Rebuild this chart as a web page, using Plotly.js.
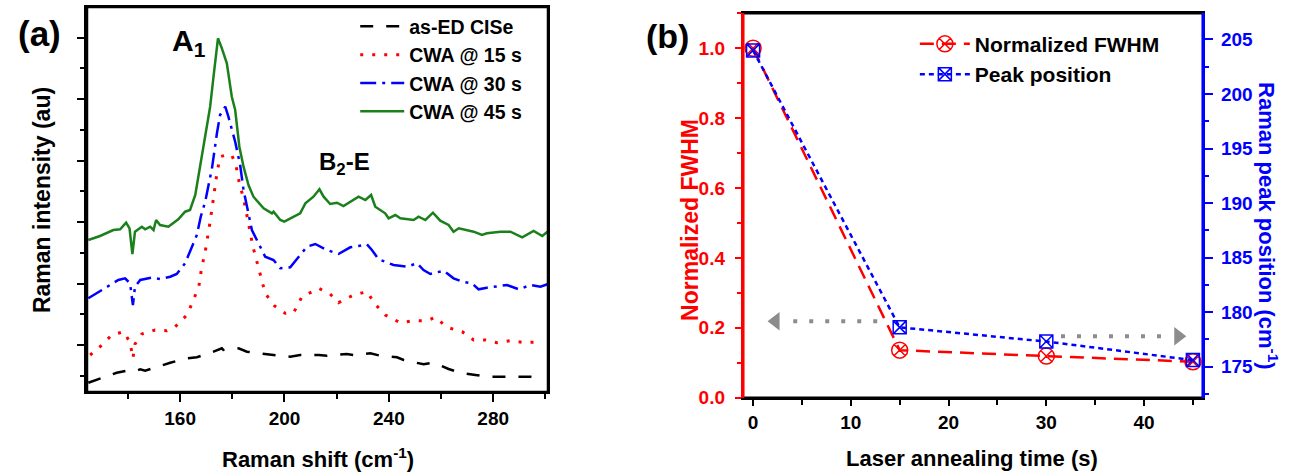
<!DOCTYPE html>
<html>
<head>
<meta charset="utf-8">
<script src="https://cdn.plot.ly/plotly-3.0.1.min.js"></script>
<style>html,body{margin:0;padding:0;background:#fff;}#chart{width:1294px;height:474px;}</style>
</head>
<body>
<div id="chart"></div>
<script>
// ---------- Panel (a): Raman spectra (arbitrary intensity units) ----------
const asEdX = [124.8,129.3,135.7,139.6,142.1,144.7,146.6,152.3,156.2,162.6,166.4,172.8,176,176.6,182.4,185.6,192,195.8,202.2,206,213.1,216.3,223.9,226.5,232.9,236.7,243.1,245.7,253.3,257.2,262.9,267.4,273.2,277.6,283.4,287.9,294.3,298.1];
const asEdY = [9.3,13.7,19.3,21.3,20.3,22.7,21.3,26,29.3,33.7,34.7,40.3,43.7,42,43.7,40.3,38,37,35.3,37,37,36.3,38,37,38.7,36.3,34.7,32,27.7,29.3,23,19.3,17,15.3,15.3,15.3,15.3,13];

const cwa15X = [125.5,129.3,133.8,138.3,140.8,141.9,142.7,145.3,150.4,154.9,158.1,162.6,165.1,167.2,168.2,169.6,171.5,172.4,173.2,174.1,175.3,177.6,179.8,181.5,182.7,184.3,186.2,187.9,191.1,192.6,196.2,200.3,203.5,206.7,209.9,213.1,217.5,220.7,226.5,231.6,234.8,238.6,244.4,249.5,254.6,257.8,262.3,268.1,272.5,277,281.5,286.6,292.3,298.1];
const cwa15Y = [37,45.3,57,60.3,49.7,33.7,48,58,62,61.3,65.3,77,92,106,123.7,140.3,170.3,187,203.7,218.7,235.3,237,237,225.3,208.7,193.7,168.7,145.3,113.7,98.7,86,78.7,79.3,95.3,99.3,103.7,98,89.3,97,100.3,87.7,77,69.3,71.3,71.3,74.7,64.7,60.3,52,52,49.3,51.3,49.3,50.3];

const cwa30X = [124.8,128,133.1,136.3,138.9,140.8,141.9,142.7,144.7,149.1,152.3,156.2,158.7,161.9,166.4,167.9,169.6,170.9,172.2,174.1,175.3,177.3,178.5,181.1,183,184.3,186.2,187.5,189.4,192.6,195.8,198.4,202.2,205.4,208.6,211.8,216.3,220.7,225.2,228.4,231.6,233.5,236.1,241.8,247,250.8,253.3,255.9,261,264.8,268.1,271.9,274.4,277.6,282.1,285.3,289.8,294.3,298.1,300.8];
const cwa30Y = [93.7,98.7,107,112,113.7,108.7,87,105.3,112,114.3,113,115.3,118,128.7,157,175.3,190.3,208.7,223.7,258.7,277,285.3,275.3,250.3,227,202,178.7,162,152,135.3,132,123.7,124.7,135.3,145.3,148,142,138,144.7,146,147.7,142,132.7,127,125.3,128.7,122,118,121.3,113.7,110.3,108.7,102.7,104.3,106,107,102.7,107,105.3,107.7];

const cwa45X = [124.8,129.3,134.4,137,139.3,140.6,141.7,142.7,145.3,146.6,148.5,149.8,150.8,152.3,155.5,159.3,161.9,163.8,165.8,167,169.6,171.5,172.8,174.5,176,177.9,179.8,181.1,182.7,184.3,186.2,188.1,192,195.2,195.8,198.4,199.9,203.5,206,208,211.1,213.4,215,217.5,220.1,222.6,228.4,231,233.2,234.8,238.6,239.9,242.5,244.4,249.5,251.4,254,256.9,259.7,262.9,264.8,266.8,272.5,275.7,277.6,282.8,286.6,291.1,295.5,298.8,300.8];
const cwa45Y = [152,156,162,162.7,169.3,163.7,138,160.3,165.3,162.7,165.3,162,172,167,165.3,172.7,180.3,182,197,215.3,258.7,285.3,315.3,353.7,343.7,328.7,295.3,282,245.3,225.3,207,195.3,183.7,178.7,180.3,172,170.3,175.3,178.7,188.7,195.3,202.7,195.3,188,189.3,186,195.3,192,197,185.3,178.7,173.7,177,173.7,172,175.3,172,179.3,171.3,167,160.3,163.7,160.3,157,158.7,160.3,160.3,154.7,161,156,160.3];

const seriesNames = ['as-ED CISe','CWA @ 15 s','CWA @ 30 s','CWA @ 45 s'];

// ---------- Panel (b): FWHM and peak position vs annealing time ----------
const annealTime = [0, 15, 30, 45];
const normFWHM = [1.0, 0.136, 0.119, 0.103];
const peakPos = [204.0, 178.6, 177.3, 175.6];

// guide arrows (in FWHM-axis units)
const arrowLeftX = [12.7, 3.4];
const arrowLeftY = [0.219, 0.219];
const headLeftX = [2.3];
const headLeftY = [0.219];
const arrowRightX = [31.5, 42.4];
const arrowRightY = [0.176, 0.176];
const headRightX = [43.5];
const headRightY = [0.176];

const FONT = 'Liberation Sans, Arial, Helvetica, sans-serif';
const BLACK = 'rgb(0,0,0)';

const traces = [
  {x: asEdX, y: asEdY, name: seriesNames[0], type:'scatter', mode:'lines', xaxis:'x', yaxis:'y', legend:'legend',
   line:{color:BLACK, width:2.5, dash:'13px,13px'}},
  {x: cwa15X, y: cwa15Y, name: seriesNames[1], type:'scatter', mode:'lines', xaxis:'x', yaxis:'y', legend:'legend',
   line:{color:'#ff0000', width:3, dash:'3px,9px'}},
  {x: cwa30X, y: cwa30Y, name: seriesNames[2], type:'scatter', mode:'lines', xaxis:'x', yaxis:'y', legend:'legend',
   line:{color:'#0000ff', width:2.5, dash:'16px,6px,3px,6px'}},
  {x: cwa45X, y: cwa45Y, name: seriesNames[3], type:'scatter', mode:'lines', xaxis:'x', yaxis:'y', legend:'legend',
   line:{color:'#1b801b', width:2.5}},

  {x: arrowLeftX, y: arrowLeftY, type:'scatter', mode:'lines', xaxis:'x2', yaxis:'y2', showlegend:false, hoverinfo:'skip',
   line:{color:'#8c8c8c', width:4, dash:'4px,12px'}},
  {x: headLeftX, y: headLeftY, type:'scatter', mode:'markers', xaxis:'x2', yaxis:'y2', showlegend:false, hoverinfo:'skip',
   marker:{symbol:'triangle-left', size:16, color:'#8c8c8c'}},
  {x: arrowRightX, y: arrowRightY, type:'scatter', mode:'lines', xaxis:'x2', yaxis:'y2', showlegend:false, hoverinfo:'skip',
   line:{color:'#8c8c8c', width:4, dash:'4px,12px'}},
  {x: headRightX, y: headRightY, type:'scatter', mode:'markers', xaxis:'x2', yaxis:'y2', showlegend:false, hoverinfo:'skip',
   marker:{symbol:'triangle-right', size:16, color:'#8c8c8c'}},

  {x: annealTime, y: normFWHM, name:'Normalized FWHM', type:'scatter', mode:'lines+markers', xaxis:'x2', yaxis:'y2', legend:'legend2',
   line:{color:'#ff0000', width:2.5, dash:'14px,8px'},
   marker:{symbol:'circle-x-open', size:16, color:'#ff0000', line:{width:1.5, color:'#ff0000'}}},
  {x: annealTime, y: peakPos, name:'Peak position', type:'scatter', mode:'lines+markers', xaxis:'x2', yaxis:'y3', legend:'legend2',
   line:{color:'#0000ff', width:2.5, dash:'5px,4px'},
   marker:{symbol:'square-x-open', size:13, color:'#0000ff', line:{width:1.5, color:'#0000ff'}}}
];

function tf(color, size){ return {family:FONT, size:size, color:color, weight:'bold'}; }
function note(text, x, y, size, color, angle){
  return {text:text, xref:'paper', yref:'paper', x:x, y:y, xanchor:'center', yanchor:'middle',
          textangle:angle||0, showarrow:false, font:tf(color,size)};
}
function frameLine(xr, yr, x0, y0, x1, y1, color){
  return {type:'line', xref:xr, yref:yr, x0:x0, y0:y0, x1:x1, y1:y1, layer:'above',
          line:{color:color, width:2.5}};
}

const layout = {
  width:1294, height:474, autosize:false,
  margin:{l:0, r:0, t:0, b:0, pad:0},
  paper_bgcolor:'#ffffff', plot_bgcolor:'rgba(0,0,0,0)',
  font:{family:FONT, color:BLACK, weight:'bold'},
  showlegend:true,
  xaxis:{domain:[0.06723, 0.42349], anchor:'y', range:[124.3, 301],
    showline:true, mirror:true, linecolor:BLACK, linewidth:2.5,
    ticks:'outside', ticklen:8, tickwidth:2, tickcolor:BLACK, tick0:160, dtick:40,
    minor:{ticks:'outside', tick0:140, dtick:20, ticklen:5, tickwidth:2, tickcolor:BLACK},
    showgrid:false, zeroline:false, tickfont:tf(BLACK,19), ticklabelstandoff:0},
  yaxis:{domain:[0.17300, 0.98523], anchor:'x', range:[0, 385],
    showline:true, mirror:true, linecolor:BLACK, linewidth:2.5,
    ticks:'outside', ticklen:7, tickwidth:2, tickcolor:BLACK, tick0:47, dtick:61.5,
    minor:{ticks:'outside', tick0:16.25, dtick:30.75, ticklen:4, tickwidth:2, tickcolor:BLACK},
    showticklabels:false, showgrid:false, zeroline:false},
  xaxis2:{domain:[0.57442, 0.92944], anchor:'y2', range:[-1, 46],
    showline:true, mirror:true, linecolor:BLACK, linewidth:2.5,
    ticks:'outside', ticklen:6, tickwidth:2, tickcolor:BLACK, tick0:0, dtick:10,
    minor:{ticks:'outside', tick0:0, dtick:5, ticklen:5, tickwidth:2, tickcolor:BLACK},
    showgrid:false, zeroline:false, tickfont:tf(BLACK,19), ticklabelstandoff:0},
  yaxis2:{domain:[0.16097, 0.97194], anchor:'x2', range:[0, 1.1],
    showline:true, linecolor:'#ff0000', linewidth:2.5,
    ticks:'outside', ticklen:6, tickwidth:2, tickcolor:'#ff0000', tick0:0, dtick:0.2, tickformat:'.1f',
    minor:{ticks:'outside', tick0:0, dtick:0.1, ticklen:4, tickwidth:2, tickcolor:'#ff0000'},
    showgrid:false, zeroline:false, tickfont:tf('#ff0000',19), ticklabelstandoff:6},
  yaxis3:{overlaying:'y2', side:'right', anchor:'x2', range:[172.15, 207.4],
    showline:true, linecolor:'#0000ff', linewidth:2.5,
    ticks:'outside', ticklen:8, tickwidth:2, tickcolor:'#0000ff', tick0:175, dtick:5,
    minor:{ticks:'outside', tick0:172.5, dtick:2.5, ticklen:4, tickwidth:2, tickcolor:'#0000ff'},
    showgrid:false, zeroline:false, tickfont:tf('#0000ff',19), ticklabelstandoff:4},
  legend:{x:0.2745, y:0.985, xanchor:'left', yanchor:'top', bgcolor:'rgba(0,0,0,0)',
    font:tf(BLACK,19.5), itemwidth:44, tracegroupgap:0, borderwidth:0},
  legend2:{x:0.707, y:0.95, xanchor:'left', yanchor:'top', bgcolor:'rgba(0,0,0,0)',
    font:tf(BLACK,21), itemwidth:50, tracegroupgap:0, borderwidth:0},
  shapes:[
    frameLine('x domain','y domain', 0, 0, 1, 0, BLACK),
    frameLine('x domain','y domain', 0, 1, 1, 1, BLACK),
    frameLine('x domain','y domain', 0, 0, 0, 1, BLACK),
    frameLine('x domain','y domain', 1, 0, 1, 1, BLACK),
    frameLine('x2 domain','y2 domain', 0, 0, 1, 0, BLACK),
    frameLine('x2 domain','y2 domain', 0, 1, 1, 1, BLACK),
    frameLine('x2 domain','y2 domain', 0, 0, 0, 1, '#ff0000'),
    frameLine('x2 domain','y2 domain', 1, 0, 1, 1, '#0000ff')
  ],
  annotations:[
    note('(a)', 0.0309, 0.930, 35, BLACK),
    note('(b)', 0.5155, 0.924, 34, BLACK),
    {text:'A<sub>1</sub>', xref:'x', yref:'y', x:156.2, y:350, xanchor:'left', yanchor:'middle', showarrow:false, font:tf(BLACK,30)},
    {text:'B<sub>2</sub>-E', xref:'x', yref:'y', x:212.3, y:229, xanchor:'left', yanchor:'middle', showarrow:false, font:tf(BLACK,24)},
    note('Raman intensity (au)', 0.0325, 0.578, 23, BLACK, -90),
    note('Raman shift (cm<sup>-1</sup>)', 0.2457, 0.034, 22, BLACK),
    note('Laser annealing time (s)', 0.7512, 0.032, 22, BLACK),
    note('Normalized FWHM', 0.5332, 0.536, 23, '#ff0000', -90),
    note('Raman peak position (cm<sup>-1</sup>)', 0.9799, 0.523, 22, '#0000ff', 90)
  ]
};

Plotly.newPlot('chart', traces, layout, {staticPlot:true, displayModeBar:false});
</script>
</body>
</html>
